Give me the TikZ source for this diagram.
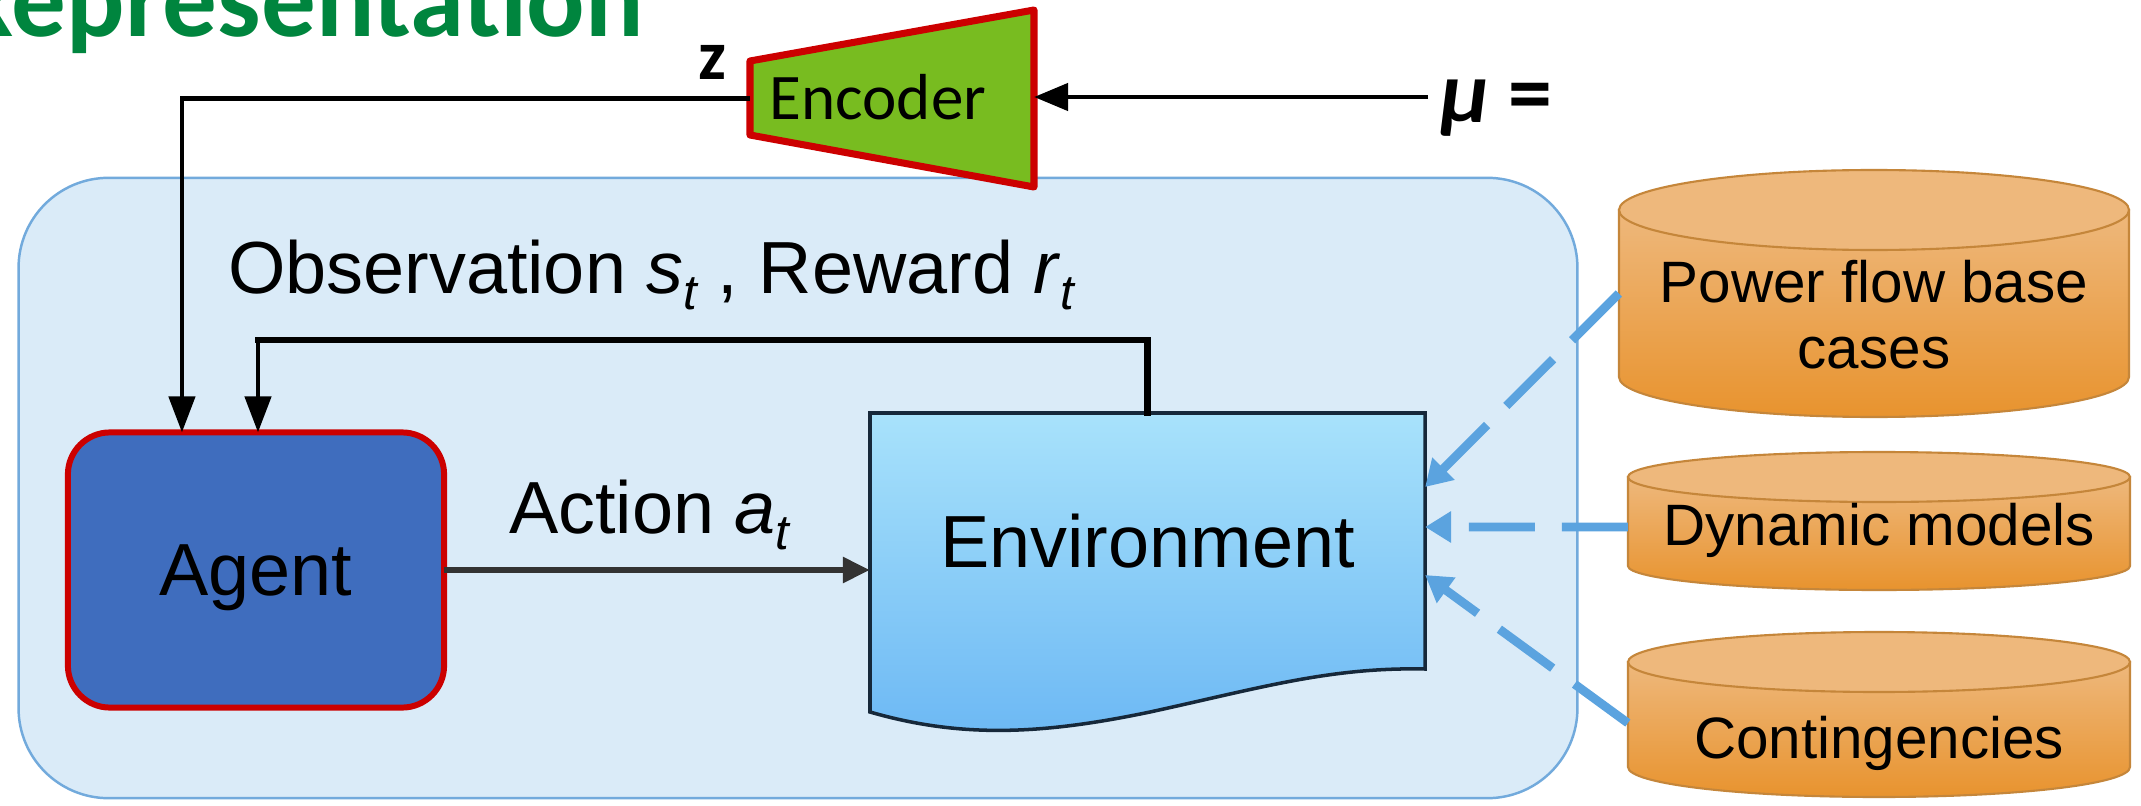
\documentclass[tikz,border=0pt]{standalone}
\usepackage{fontspec}
\setmainfont{Liberation Sans}
\newfontfamily\calib{Carlito}
\usetikzlibrary{arrows.meta,calc}
\definecolor{boxfill}{HTML}{DAEBF8}
\definecolor{boxline}{HTML}{72AADC}
\definecolor{agentfill}{HTML}{3F6DBE}
\definecolor{redline}{HTML}{CC0000}
\definecolor{encfill}{HTML}{78BC20}
\definecolor{envtop}{HTML}{A8E2FB}
\definecolor{envbot}{HTML}{6CB8F4}
\definecolor{envline}{HTML}{16283A}
\definecolor{cyltop}{HTML}{EEB87C}
\definecolor{cylbot}{HTML}{E8932E}
\definecolor{cylline}{HTML}{C5863A}
\definecolor{dashblue}{HTML}{5BA3DF}
\definecolor{titlegreen}{HTML}{00853E}
\definecolor{actgray}{HTML}{333333}
\newcommand\subt[1]{\raisebox{-0.22em}{\fontsize{14pt}{14pt}\selectfont\itshape #1}}
\tikzset{
  ghost/.style={inner sep=0pt, outer sep=0pt},
  bigtxt/.style={font=\fontsize{21pt}{25pt}\selectfont},
  cyltxt/.style={font=\fontsize{16.6pt}{18.7pt}\selectfont, align=center, inner sep=0pt},
  blackline/.style={line width=1.3pt, draw=black},
  fbline/.style={line width=1.9pt, draw=black, line cap=rect},
  dsharrow/.style={draw=dashblue, line width=2.5pt, dash pattern=on 0.66cm off 0.27cm, -{Triangle[length=0.26cm,width=0.3cm]}},
  cylbody/.style={top color=cyltop, bottom color=cylbot, draw=cylline, line width=0.6pt},
  cylcap/.style={fill=cyltop, draw=cylline, line width=0.6pt},
}
\begin{document}
\begin{tikzpicture}[x=0.01cm,y=-0.01cm]
\useasboundingbox (0,0) rectangle (2141,806);
\clip (0,0) rectangle (2141,806);
\fill[white] (0,0) rectangle (2141,806);

% title (cut by the top edge)
\node[anchor=base east, ghost, text=titlegreen, font=\calib\bfseries\fontsize{31pt}{37pt}\selectfont] (title) at (644,36) {Representation};

% frame
\node[ghost, draw=boxline, fill=boxfill, line width=0.7pt, rounded corners=0.9cm, minimum width=15.58cm, minimum height=6.2cm] (frame) at (798,488) {};

% agent
\node[ghost, draw=redline, fill=agentfill, line width=1.7pt, rounded corners=0.42cm, minimum width=3.76cm, minimum height=2.75cm, bigtxt, text depth=0pt] (agent) at (256,570) {Agent};

% environment (document shape)
\path[top color=envtop, bottom color=envbot, draw=envline, line width=1pt]
  (870,413) -- (1425,413) -- (1425,669)
  .. controls (1330,667) and (1260,688) .. (1150,712)
  .. controls (1040,735) and (960,738) .. (870,712) -- cycle;
\node[ghost, minimum width=5.55cm, minimum height=2.56cm, bigtxt] (env) at (1147.5,541) {Environment};

% encoder
\path[fill=encfill, draw=redline, line width=2pt, line join=round]
  (750,61) -- (1034,10) -- (1034,187) -- (750,135) -- cycle;
\node[ghost, minimum width=2.84cm, minimum height=1.77cm] (enc) at (892,98.5) {};
\node[ghost, anchor=base, font=\calib\fontsize{18.5pt}{22pt}\selectfont] (enctxt) at (878,119) {Encoder};

% labels
\node[ghost, anchor=base, font=\calib\bfseries\fontsize{20pt}{24pt}\selectfont] (z) at (712,80) {z};
\node[ghost, anchor=base west, font=\calib\bfseries\fontsize{25pt}{30pt}\selectfont] (mu) at (1440,123) {\itshape μ\upshape{} =};
\node[ghost, anchor=base west, bigtxt] (obs) at (228,293) {Observation \textit{s}\subt{t} , Reward \textit{r}\subt{t}};
\node[ghost, anchor=base west, bigtxt] (act) at (509,533) {Action \textit{a}\subt{t}};

% cylinders
\path[cylbody] (1619,210) -- (1619,377) .. controls (1619,399) and (1735,417) .. (1874,417)
  .. controls (2013,417) and (2129,399) .. (2129,377) -- (2129,210) -- cycle;
\path[cylcap] (1874,210) ellipse [x radius=255, y radius=40];
\node[ghost, minimum width=5.1cm, minimum height=2.47cm] (c1) at (1874,293.5) {};
\node[cyltxt, anchor=base] (t1) at (1874,368) {Power flow base\\cases};

\path[cylbody] (1628,477) -- (1628,566) .. controls (1628,579) and (1740,590) .. (1879,590)
  .. controls (2018,590) and (2130,579) .. (2130,566) -- (2130,477) -- cycle;
\path[cylcap] (1879,477) ellipse [x radius=251, y radius=25];
\node[ghost, minimum width=5.02cm, minimum height=1.38cm] (c2) at (1879,521) {};
\node[cyltxt, anchor=base] (t2) at (1879,545) {Dynamic models};

\path[cylbody] (1628,662) -- (1628,767) .. controls (1628,784) and (1740,797) .. (1879,797)
  .. controls (2018,797) and (2130,784) .. (2130,767) -- (2130,662) -- cycle;
\path[cylcap] (1879,662) ellipse [x radius=251, y radius=30];
\node[ghost, minimum width=5.02cm, minimum height=1.65cm] (c3) at (1879,714.5) {};
\node[cyltxt, anchor=base] (t3) at (1879,758) {Contingencies};

% connectors
\coordinate (muin) at (1428,97);
\draw[blackline, -{Triangle[length=0.34cm,width=0.27cm]}] (muin) -- (enc.east |- muin);
\draw[blackline, -{Triangle[length=0.36cm,width=0.26cm]}] (enc.west) -| ([xshift=-0.74cm]agent.north);
\coordinate (fbc) at (258,340);
\draw[fbline] (env.north) |- (fbc);
\draw[line width=1.3pt, -{Triangle[length=0.36cm,width=0.26cm]}] (fbc) -- (fbc |- agent.north);
\draw[draw=actgray, line width=1.6pt, -{Triangle[length=0.27cm,width=0.25cm]}] (agent.east) -- (agent.east -| env.west);

\draw[dsharrow] (c1.west) -- ([yshift=0.54cm]env.east);
\draw[dsharrow] ([yshift=-0.06cm]c2.west) -- ([yshift=0.14cm]env.east);
\draw[dsharrow] ([yshift=-0.085cm]c3.west) -- ([yshift=-0.34cm]env.east);
\end{tikzpicture}
\end{document}
